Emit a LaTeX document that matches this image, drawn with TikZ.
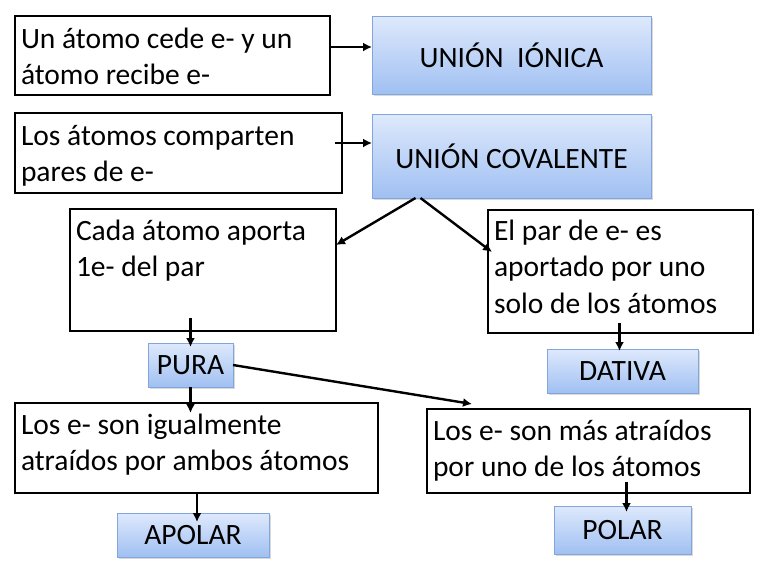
\documentclass[tikz,border=0pt]{standalone}
\usepackage{fontspec}
\setmainfont{Carlito}
\usetikzlibrary{shadows,arrows.meta}

\definecolor{boxtop}{RGB}{222,233,252}
\definecolor{boxbottom}{RGB}{160,192,242}
\definecolor{boxline}{RGB}{130,165,220}

\begin{document}
\begin{tikzpicture}[x=1pt,y=-1pt,->,>={Latex[length=9pt,width=9pt]},line width=2.4pt]
    \tikzstyle{every edge}=[draw,line width=2.4pt]
    \tikzstyle{text box}=[draw,line width=1.8pt,anchor=north west,align=flush left,inner xsep=6pt,inner ysep=0pt,
        outer sep=0pt,font=\fontsize{29.5}{36.5}\selectfont]
    \tikzstyle{bond box}=[draw=boxline,line width=0.6pt,top color=boxtop,bottom color=boxbottom,anchor=north west,
        inner sep=0pt,outer sep=0pt,font=\fontsize{29.5}{34}\selectfont,
        drop shadow={shadow xshift=1.5pt,shadow yshift=-1.5pt,opacity=.3}]

    \useasboundingbox (0,0) rectangle (768,576);

    % cajas de texto
    \node[text box,text width=303pt,text height=32pt,text depth=47pt] (cede) at (15,16)
        {Un átomo cede e- y un\\átomo recibe e-};
    \node[text box,text width=315pt,text height=32pt,text depth=48pt] (comparten) at (15,113)
        {Los átomos comparten\\pares de e-};
    \node[text box,text width=254pt,text height=31pt,text depth=91pt] (cada) at (70,209)
        {Cada átomo aporta\\1e- del par};
    \node[text box,text width=253pt,text height=30pt,text depth=93pt] (elpar) at (488,210)
        {El par de e- es\\aportado por uno\\solo de los átomos};
    \node[text box,text width=351pt,text height=31pt,text depth=59pt] (igual) at (15,403)
        {Los e- son igualmente\\atraídos por ambos átomos};
    \node[text box,text width=311pt,text height=31pt,text depth=53pt] (mas) at (427,409)
        {Los e- son más atraídos\\por uno de los átomos};

    % cajas azules
    \foreach \name/\x/\y/\w/\h/\txt in {ionica/372/16/279/78/{UNIÓN~ IÓNICA},
            covalente/372/114/279/84/{UNIÓN COVALENTE},
            pura/148/343/85/44/PURA, dativa/547/349/151/44/DATIVA,
            apolar/117/513/152/44/APOLAR, polar/554/506/137/48/POLAR}
        \node[bond box,minimum width=\w pt,minimum height=\h pt] (\name) at (\x,\y) {\txt};

    % flechas
    \path (cede.east |- 0,47) edge (ionica.west |- 0,47);
    \path ([xshift=-7pt]comparten.east |- 0,143) edge (covalente.west |- 0,143);
    \path ([xshift=-96pt]covalente.south) edge ([yshift=25pt]cada.east);
    \path ([xshift=-91pt]covalente.south) edge ([xshift=4pt]elpar.west |- 0,252);
    \path (pura.north |- 0,318) edge ([yshift=-4pt]pura.north);
    \path ([xshift=-3pt]dativa.north |- 0,323) edge ([xshift=-3pt,yshift=-2pt]dativa.north);
    \path (pura.south) edge (pura.south |- 0,413);
    \path (pura.east) edge ([xshift=45pt,yshift=5pt]mas.north west);
    \path ([xshift=4pt]apolar.north |- igual.south) edge ([xshift=4pt,yshift=-9pt]apolar.north);
    \path ([xshift=4pt]polar.north |- 0,482) edge ([xshift=4pt,yshift=-6pt]polar.north);
\end{tikzpicture}
\end{document}
